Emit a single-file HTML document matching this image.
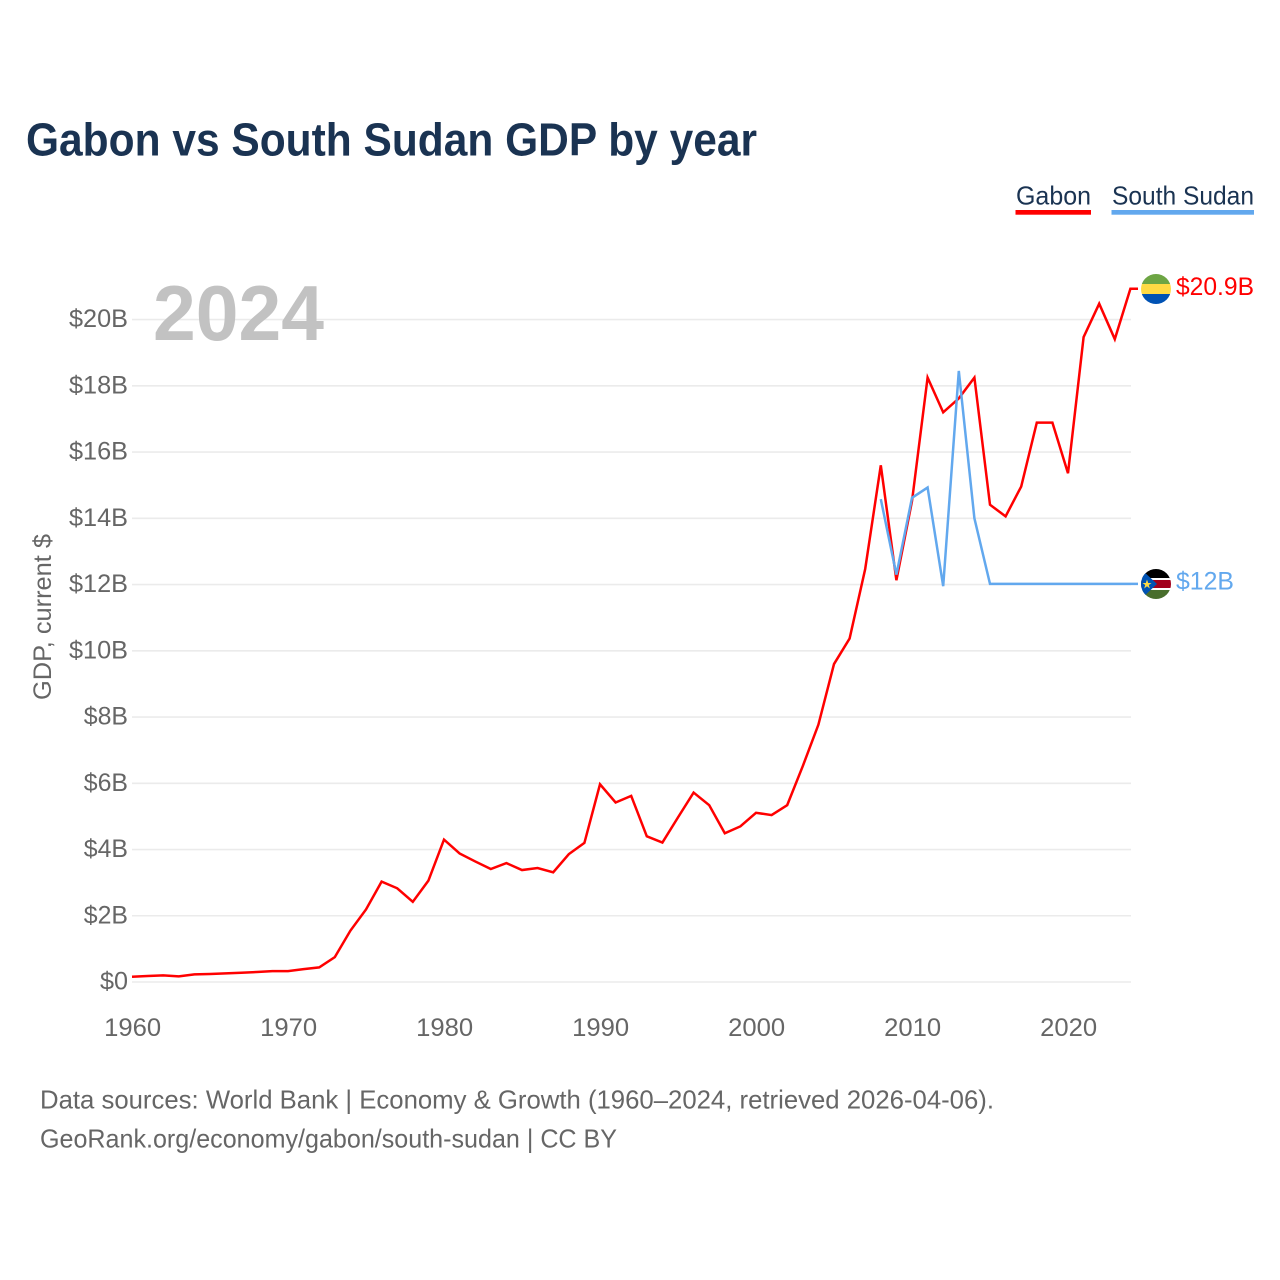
<!DOCTYPE html>
<html lang="en">
<head>
<meta charset="utf-8">
<title>Gabon vs South Sudan GDP by year</title>
<style>
html,body{margin:0;padding:0;background:#fff;width:1280px;height:1280px;overflow:hidden}
svg{display:block;font-family:"Liberation Sans",sans-serif}
</style>
</head>
<body>
<svg id="chart" xmlns="http://www.w3.org/2000/svg" width="1280" height="1280" viewBox="0 0 1280 1280">
  <rect width="1280" height="1280" fill="#fff"/>
  <text x="26" y="155.5" font-size="46" font-weight="700" fill="#1a3352" textLength="731" lengthAdjust="spacingAndGlyphs">Gabon vs South Sudan GDP by year</text>

  <g>
    <text x="1016" y="204.5" font-size="26" fill="#1a3352" textLength="75" lengthAdjust="spacingAndGlyphs">Gabon</text>
    <rect x="1015.5" y="210" width="75.5" height="4.7" fill="#ff0000"/>
  </g>
  <g>
    <text x="1112" y="204.5" font-size="26" fill="#1a3352" textLength="142" lengthAdjust="spacingAndGlyphs">South Sudan</text>
    <rect x="1111.5" y="210" width="142.5" height="4.7" fill="#62a8ee"/>
  </g>

  <g id="grid"></g>
  <g id="yticks"></g>
  <g id="xticks"></g>

  <text transform="translate(51,700) rotate(-90)" font-size="25" fill="#666" textLength="166" lengthAdjust="spacingAndGlyphs">GDP, current $</text>
  <text x="153" y="340" font-size="78" font-weight="700" fill="#c2c2c2" textLength="171" lengthAdjust="spacingAndGlyphs">2024</text>

  <g id="series"></g>

  <defs>
    <clipPath id="clipGabon"><circle cx="1156" cy="289" r="15"/></clipPath>
    <clipPath id="clipSudan"><circle cx="1156" cy="584" r="15"/></clipPath>
  </defs>

  <g clip-path="url(#clipGabon)">
    <rect x="1141" y="274" width="30" height="10" fill="#6da544"/>
    <rect x="1141" y="284" width="30" height="10" fill="#ffda44"/>
    <rect x="1141" y="294" width="30" height="10" fill="#0052b4"/>
  </g>
  <g clip-path="url(#clipSudan)">
    <rect x="1141" y="569" width="30" height="10" fill="#000"/>
    <rect x="1141" y="578" width="30" height="12" fill="#fff"/>
    <rect x="1141" y="580" width="30" height="8" fill="#a2001d"/>
    <rect x="1141" y="590" width="30" height="9" fill="#496e2d"/>
    <polygon points="1141,569 1157,584 1141,599" fill="#0052b4"/>
    <polygon points="1147,579.5 1148.2,583 1151.5,583 1148.8,585 1149.8,588.5 1147,586.3 1144.2,588.5 1145.2,585 1142.5,583 1145.8,583" fill="#ffda44"/>
  </g>

  <text x="1176" y="295" font-size="25" fill="#ff0000" textLength="78" lengthAdjust="spacingAndGlyphs">$20.9B</text>
  <text x="1176" y="589.5" font-size="25" fill="#62a8ee" textLength="58" lengthAdjust="spacingAndGlyphs">$12B</text>

  <text x="40" y="1108.5" font-size="26" fill="#666" textLength="954" lengthAdjust="spacingAndGlyphs">Data sources: World Bank | Economy &amp; Growth (1960–2024, retrieved 2026-04-06).</text>
  <text x="40" y="1147.5" font-size="26" fill="#666" textLength="577" lengthAdjust="spacingAndGlyphs">GeoRank.org/economy/gabon/south-sudan | CC BY</text>
</svg>
<script>
const gabonStartYear = 1960;
const gabonValues = [0.16,0.18,0.20,0.17,0.23,0.24,0.26,0.28,0.30,0.33,0.33,0.39,0.44,0.75,1.55,2.19,3.03,2.83,2.42,3.06,4.30,3.88,3.64,3.41,3.59,3.38,3.44,3.31,3.86,4.20,5.97,5.42,5.62,4.40,4.21,4.97,5.72,5.34,4.49,4.70,5.11,5.04,5.34,6.52,7.77,9.60,10.37,12.47,15.60,12.13,14.52,18.25,17.20,17.62,18.25,14.41,14.06,14.96,16.89,16.89,15.36,19.47,20.48,19.41,20.93];
const sudanStartYear = 2008;
const sudanValues = [14.58,12.30,14.62,14.93,11.95,18.45,14.00,12.02,12.02,12.02,12.02,12.02,12.02,12.02,12.02,12.02,12.02];
const yTickValues = [0,2,4,6,8,10,12,14,16,18,20];
const xTickYears = [1960,1970,1980,1990,2000,2010,2020];

const NS = 'http://www.w3.org/2000/svg';
function xScale(year){ return 132 + (year - 1960) * 15.6; }
function yScale(v){ return 982 - v * 33.12; }

function make(tag, attrs, parent){
  const el = document.createElementNS(NS, tag);
  for (const k in attrs) el.setAttribute(k, attrs[k]);
  parent.appendChild(el);
  return el;
}

const gridGroup = document.getElementById('grid');
const yGroup = document.getElementById('yticks');
yTickValues.forEach(function(v){
  const line = make('line', {x1:132, x2:1131, y1:yScale(v), y2:yScale(v), stroke:'#ebebeb', 'stroke-width':1.6}, gridGroup);
  
  
  const s = '$' + (v === 0 ? '0' : v + 'B');
  const t = make('text', {x:128, y:yScale(v) + 7.5, 'text-anchor':'end', 'font-size':25, fill:'#666', textLength:(v === 0 ? 28 : s.length * 14.75), lengthAdjust:'spacingAndGlyphs'}, yGroup);
  t.textContent = s;
  
  
});

const xGroup = document.getElementById('xticks');
xTickYears.forEach(function(y){
  const t = make('text', {x:xScale(y) + 0.7, y:1036, 'text-anchor':'middle', 'font-size':25, fill:'#666', textLength:57, lengthAdjust:'spacingAndGlyphs'}, xGroup);
  t.textContent = String(y);
  
  
});

function seriesPoints(startYear, values, endX){
  const pts = values.map(function(v, i){ return xScale(startYear + i).toFixed(2) + ',' + yScale(v).toFixed(2); });
  const last = values[values.length - 1];
  pts.push(endX + ',' + yScale(last).toFixed(2));
  return pts.join(' ');
}

const seriesGroup = document.getElementById('series');
const gabonLine = make('polyline', {points:seriesPoints(gabonStartYear, gabonValues, 1138), fill:'none', stroke:'#ff0000', 'stroke-width':2.5, 'stroke-linejoin':'miter'}, seriesGroup);


const sudanLine = make('polyline', {points:seriesPoints(sudanStartYear, sudanValues, 1138), fill:'none', stroke:'#62a8ee', 'stroke-width':2.5, 'stroke-linejoin':'miter'}, seriesGroup);


</script>
</body>
</html>
